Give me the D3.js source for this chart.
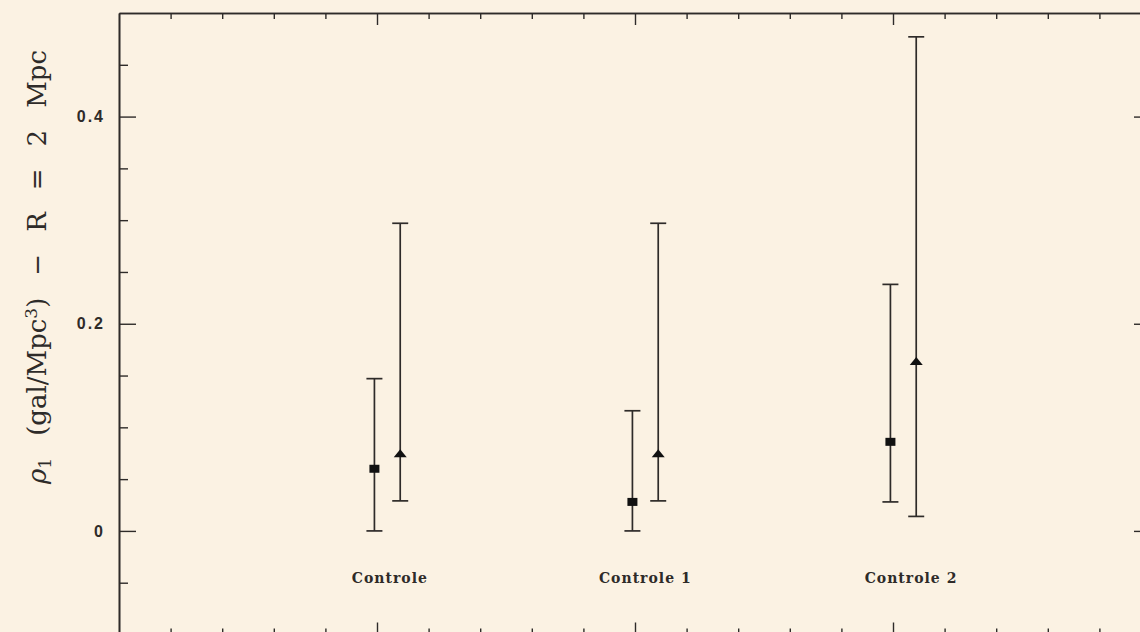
<!DOCTYPE html>
<html>
<head>
<meta charset="utf-8">
<script src="https://cdn.jsdelivr.net/npm/d3@7"></script>
<style>
  html, body { margin: 0; padding: 0; background: #fbf2e3; }
  svg { display: block; }
</style>
</head>
<body>
<svg id="chart" width="1140" height="632"></svg>
<script>
// ---- data ----
const groups = ["Controle", "Controle 1", "Controle 2"];
const labelX = [5.25, 10.2, 15.35];
const squareX = [4.95, 9.95, 14.95];
const squareY = [0.060, 0.028, 0.086];
const squareLo = [0.0, 0.0, 0.028];
const squareHi = [0.147, 0.116, 0.238];
const triX = [5.45, 10.45, 15.45];
const triY = [0.074, 0.074, 0.163];
const triLo = [0.029, 0.029, 0.014];
const triHi = [0.297, 0.297, 0.477];
const yTickLabels = [0, 0.2, 0.4];
const yMajor = [0, 0.2, 0.4];
const yMinor = [-0.05, 0.05, 0.1, 0.15, 0.25, 0.3, 0.35, 0.45];
const xMajor = [5, 10, 15];
const xMinor = [1,2,3,4,6,7,8,9,11,12,13,14,16,17,18,19];
const yLabelParts = [
  { t: "ρ", k: "it" }, { t: "1", k: "sub" }, { t: " (gal/Mpc", k: "n" },
  { t: "3", k: "sup" }, { t: ") − R = 2 Mpc", k: "n" }
];

// ---- layout ----
const svg = d3.select("#chart");
const ink = "#2e2b29";
const x = d3.scaleLinear().domain([0, 20]).range([119, 1151]);
const y = d3.scaleLinear().domain([-0.1, 0.5]).range([634.5, 13]);

function styleAxis(g) {
  g.selectAll("path.domain").attr("stroke", ink).attr("stroke-width", 1.6);
  g.selectAll(".tick line").attr("stroke", ink).attr("stroke-width", 1.4);
  g.selectAll(".tick text").remove();
}

// top (ticks inward = down)
svg.append("g").attr("transform", `translate(0,${y(0.5)})`)
  .call(d3.axisBottom(x).tickValues(xMajor).tickSize(12).tickSizeOuter(0)).call(styleAxis);
svg.append("g").attr("transform", `translate(0,${y(0.5)})`)
  .call(d3.axisBottom(x).tickValues(xMinor).tickSize(6).tickSizeOuter(0)).call(styleAxis);
// bottom (ticks inward = up)
svg.append("g").attr("transform", `translate(0,${y(-0.1)})`)
  .call(d3.axisTop(x).tickValues(xMajor).tickSize(12).tickSizeOuter(0)).call(styleAxis);
svg.append("g").attr("transform", `translate(0,${y(-0.1)})`)
  .call(d3.axisTop(x).tickValues(xMinor).tickSize(6).tickSizeOuter(0)).call(styleAxis);
// left (ticks inward = right)
svg.append("g").attr("transform", `translate(${x(0)},0)`)
  .call(d3.axisRight(y).tickValues(yMajor).tickSize(17).tickSizeOuter(0)).call(styleAxis);
svg.append("g").attr("transform", `translate(${x(0)},0)`)
  .call(d3.axisRight(y).tickValues(yMinor).tickSize(9).tickSizeOuter(0)).call(styleAxis);
// right (ticks inward = left)
svg.append("g").attr("transform", `translate(${x(20)},0)`)
  .call(d3.axisLeft(y).tickValues(yMajor).tickSize(17).tickSizeOuter(0)).call(styleAxis);
svg.append("g").attr("transform", `translate(${x(20)},0)`)
  .call(d3.axisLeft(y).tickValues(yMinor).tickSize(9).tickSizeOuter(0)).call(styleAxis);

// y tick labels
const yl = svg.append("g").attr("transform", `translate(${x(0)},0)`)
  .call(d3.axisLeft(y).tickValues(yTickLabels).tickSize(0).tickPadding(14)
        .tickFormat(d => d === 0 ? "0" : d3.format(".1f")(d)));
yl.select("path.domain").remove();
yl.selectAll(".tick text")
  .attr("fill", ink)
  .attr("font-family", "'Liberation Sans', Arial, sans-serif")
  .attr("font-weight", "bold")
  .attr("font-size", 16)
  .attr("letter-spacing", 2);

// y axis title
const yt = svg.append("text")
  .attr("transform", `translate(46,267) rotate(-90)`)
  .attr("text-anchor", "middle")
  .attr("font-family", "'DejaVu Serif', 'Liberation Serif', serif")
  .attr("font-size", 26)
  .attr("fill", ink);
yt.selectAll("tspan").data(yLabelParts).join("tspan")
  .attr("font-size", d => (d.k === "n" || d.k === "it") ? 26 : 17)
  .attr("font-style", d => d.k === "it" ? "italic" : null)
  .attr("baseline-shift", d => d.k === "sub" ? "-30%" : d.k === "sup" ? "55%" : null)
  .text(d => d.t);
// spread words to the reference's length
const natural = yt.node().getComputedTextLength();
yt.attr("word-spacing", Math.max(0, (434 - natural) / 6));

// group labels
svg.append("g").selectAll("text").data(groups).join("text")
  .attr("x", (d, i) => x(labelX[i]))
  .attr("y", y(-0.05))
  .attr("text-anchor", "middle")
  .attr("font-family", "'DejaVu Serif', 'Liberation Serif', serif")
  .attr("font-weight", "bold")
  .attr("font-size", 14)
  .attr("letter-spacing", 1)
  .attr("fill", ink)
  .text(d => d);

// error bars
function errorBars(xs, lo, hi) {
  const g = svg.append("g").attr("stroke", ink).attr("stroke-width", 1.7).attr("fill", "none");
  const idx = d3.range(xs.length);
  g.selectAll("line.v").data(idx).join("line")
    .attr("x1", i => x(xs[i])).attr("x2", i => x(xs[i]))
    .attr("y1", i => y(lo[i])).attr("y2", i => y(hi[i]));
  g.selectAll("line.lo").data(idx).join("line")
    .attr("x1", i => x(xs[i]) - 8).attr("x2", i => x(xs[i]) + 8)
    .attr("y1", i => y(lo[i])).attr("y2", i => y(lo[i]));
  g.selectAll("line.hi").data(idx).join("line")
    .attr("x1", i => x(xs[i]) - 8).attr("x2", i => x(xs[i]) + 8)
    .attr("y1", i => y(hi[i])).attr("y2", i => y(hi[i]));
}
errorBars(squareX, squareLo, squareHi);
errorBars(triX, triLo, triHi);

// markers
svg.append("g").selectAll("rect").data(d3.range(squareX.length)).join("rect")
  .attr("x", i => x(squareX[i]) - 5)
  .attr("y", i => y(squareY[i]) - 4)
  .attr("width", 10).attr("height", 8)
  .attr("fill", "#111");
svg.append("g").selectAll("path").data(d3.range(triX.length)).join("path")
  .attr("d", i => {
    const cx = x(triX[i]), cy = y(triY[i]);
    return `M${cx - 6.5},${cy + 3} L${cx + 6.5},${cy + 3} L${cx},${cy - 5} Z`;
  })
  .attr("fill", "#111");
</script>
</body>
</html>
